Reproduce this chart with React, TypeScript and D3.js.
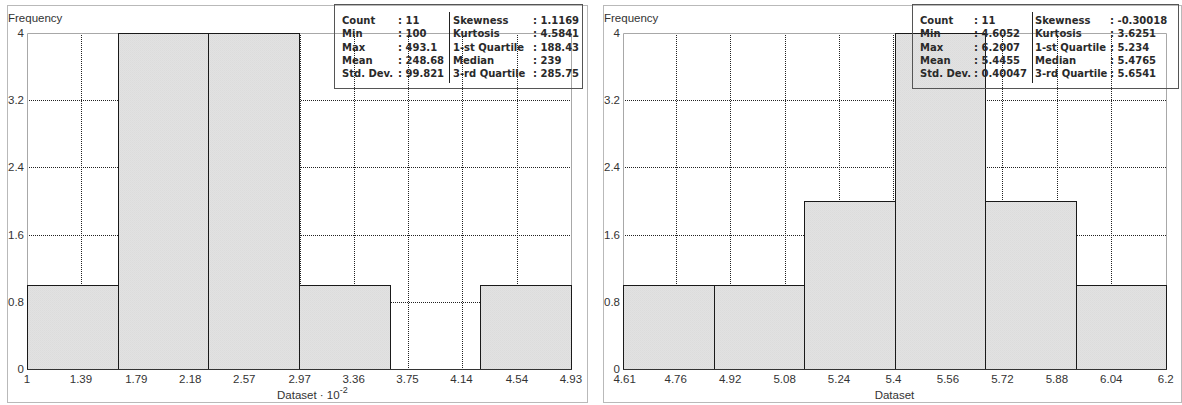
import React from 'react';
import * as d3 from 'd3';

// left histogram (values shown scaled by 10^-2)
const leftCounts = [1, 4, 4, 1, 0, 1];
const leftRange = [1.0, 4.931];
const leftTicks = ['1', '1.39', '1.79', '2.18', '2.57', '2.97', '3.36', '3.75', '4.14', '4.54', '4.93'];
const leftStatsA = [['Count', '11'], ['Min', '100'], ['Max', '493.1'], ['Mean', '248.68'], ['Std. Dev.', '99.821']];
const leftStatsB = [['Skewness', '1.1169'], ['Kurtosis', '4.5841'], ['1-st Quartile', '188.43'], ['Median', '239'], ['3-rd Quartile', '285.75']];

// right histogram
const rightCounts = [1, 1, 2, 4, 2, 1];
const rightRange = [4.6052, 6.2007];
const rightTicks = ['4.61', '4.76', '4.92', '5.08', '5.24', '5.4', '5.56', '5.72', '5.88', '6.04', '6.2'];
const rightStatsA = [['Count', '11'], ['Min', '4.6052'], ['Max', '6.2007'], ['Mean', '5.4455'], ['Std. Dev.', '0.40047']];
const rightStatsB = [['Skewness', '-0.30018'], ['Kurtosis', '3.6251'], ['1-st Quartile', '5.234'], ['Median', '5.4765'], ['3-rd Quartile', '5.6541']];

const yTicks = [0, 0.8, 1.6, 2.4, 3.2, 4];

const FONT = '"Liberation Sans", Arial, sans-serif';
const BOXFONT = '"DejaVu Sans", Verdana, sans-serif';

interface PanelProps {
  px0: number;
  px1: number;
  left: number;
  right: number;
  counts: number[];
  range: number[];
  ticks: string[];
  statsA: string[][];
  statsB: string[][];
  box: { x0: number; x1: number; colA: number; div: number; colB: number; colonB: number };
  scaled?: boolean;
}

const Panel: React.FC<PanelProps> = ({ px0, px1, left, right, counts, range, ticks, statsA, statsB, box, scaled }) => {
  const top = 33;
  const bottom = 369;
  const x = d3.scaleLinear().domain(range).range([left, right]);
  const y = d3.scaleLinear().domain([0, 4]).range([bottom, top]);
  const binW = (range[1] - range[0]) / counts.length;
  const bins = counts.map((c, i) => ({ x0: range[0] + i * binW, x1: range[0] + (i + 1) * binW, c }));
  const rowY = (i: number) => 24 + i * 13.3;

  return (
    <g fontFamily={FONT}>
      <rect x={px0 + 0.5} y={5.5} width={px1 - px0} height={397} fill="#fff" stroke="#b9b9b9" />
      <text x={px0 + 1} y={22} fontSize={11.5} fill="#333">Frequency</text>

      {/* grid */}
      {yTicks.slice(1, -1).map((t) => (
        <line key={'h' + t} x1={left} x2={right} y1={Math.round(y(t)) + 0.5} y2={Math.round(y(t)) + 0.5}
          stroke="#222" strokeDasharray="1,1" />
      ))}
      {ticks.slice(1, -1).map((t) => (
        <line key={'v' + t} x1={Math.round(x(+t)) + 0.5} x2={Math.round(x(+t)) + 0.5} y1={top} y2={bottom}
          stroke="#222" strokeDasharray="1,1" />
      ))}

      {/* frame */}
      <path d={`M${left + 0.5},${bottom}V${top + 0.5}H${right + 0.5}V${bottom}`} fill="none" stroke="#a8a8a8" />

      {/* bars */}
      {bins.filter((b) => b.c > 0).map((b, i) => (
        <rect key={i} x={Math.round(x(b.x0)) + 0.5} y={Math.round(y(b.c)) + 0.5}
          width={Math.round(x(b.x1)) - Math.round(x(b.x0))} height={Math.round(y(0)) - Math.round(y(b.c))}
          fill="url(#tex)" stroke="#1a1a1a" />
      ))}

      <line x1={left} x2={right + 1} y1={bottom + 0.5} y2={bottom + 0.5} stroke="#333" />

      {/* y labels */}
      {yTicks.map((t) => (
        <text key={'yl' + t} x={left - 3} y={y(t) + 4} fontSize={11.5} fill="#333" textAnchor="end">{String(t)}</text>
      ))}
      {/* x labels */}
      {ticks.map((t) => (
        <text key={'xl' + t} x={x(+t)} y={383} fontSize={11.5} fill="#333" textAnchor="middle">{t}</text>
      ))}
      {scaled ? (
        <text x={(left + right) / 2 - 22} y={399} fontSize={11.5} fill="#333">
          Dataset · 10<tspan dy={-6} fontSize={9}>-2</tspan>
        </text>
      ) : (
        <text x={(left + right) / 2} y={399} fontSize={11.5} fill="#333" textAnchor="middle">Dataset</text>
      )}

      {/* stats box */}
      <rect x={box.x0 + 0.5} y={4.5} width={box.x1 - box.x0} height={84} fill="none" stroke="#555" />
      <line x1={box.div + 0.5} x2={box.div + 0.5} y1={12} y2={83} stroke="#222" />
      {statsA.map((s, i) => (
        <g key={'a' + i} fontFamily={BOXFONT} fontSize={10} fontWeight="bold" fill="#2a2a2a">
          <text x={box.x0 + 8} y={rowY(i)}>{s[0]}</text>
          <text x={box.colA} y={rowY(i)}>: {s[1]}</text>
        </g>
      ))}
      {statsB.map((s, i) => (
        <g key={'b' + i} fontFamily={BOXFONT} fontSize={10} fontWeight="bold" fill="#2a2a2a">
          <text x={box.colB} y={rowY(i)}>{s[0]}</text>
          <text x={box.colonB} y={rowY(i)}>: {s[1]}</text>
        </g>
      ))}
    </g>
  );
};

const App: React.FC = () => (
  <svg width={1182} height={405} style={{ position: 'absolute', left: 0, top: 0, background: '#fff' }}>
    <defs>
      <pattern id="tex" width={2} height={2} patternUnits="userSpaceOnUse">
        <rect width={2} height={2} fill="#e2e2e2" />
        <rect width={1} height={1} fill="#dcdcdc" />
        <rect x={1} y={1} width={1} height={1} fill="#dedede" />
      </pattern>
    </defs>
    <Panel px0={7} px1={587} left={27} right={571} counts={leftCounts} range={leftRange} ticks={leftTicks}
      statsA={leftStatsA} statsB={leftStatsB} scaled
      box={{ x0: 334, x1: 582, colA: 398, div: 449, colB: 453, colonB: 533 }} />
    <Panel px0={603} px1={1181} left={623} right={1166} counts={rightCounts} range={rightRange} ticks={rightTicks}
      statsA={rightStatsA} statsB={rightStatsB}
      box={{ x0: 912, x1: 1178, colA: 974, div: 1032, colB: 1035, colonB: 1110 }} />
  </svg>
);

export default App;
